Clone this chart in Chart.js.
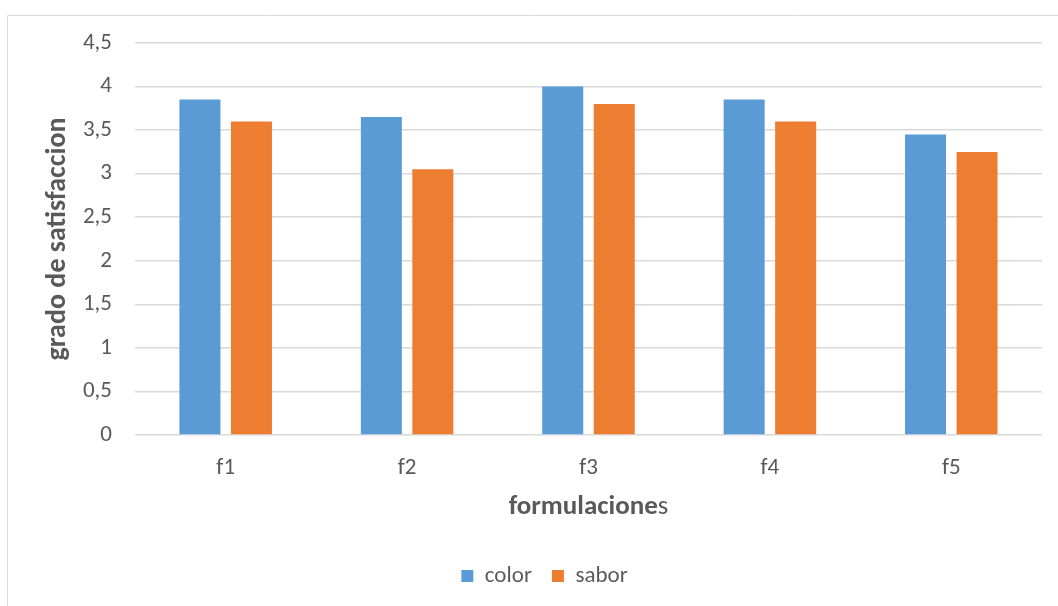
<!DOCTYPE html>
<html>
<head>
<meta charset="utf-8">
<script src="https://cdn.jsdelivr.net/npm/chart.js@4/dist/chart.umd.min.js"></script>
<style>
  html, body { margin: 0; padding: 0; background: #ffffff; overflow: hidden; }
  canvas { display: block; }
</style>
</head>
<body>
<canvas id="chart" width="1058" height="606"></canvas>
<script>
// Satisfaction scores per formulation
const categories = ['f1', 'f2', 'f3', 'f4', 'f5'];
const colorScores = [3.85, 3.65, 4.0, 3.85, 3.45];
const saborScores = [3.6, 3.05, 3.8, 3.6, 3.25];
const seriesNames = ['color', 'sabor'];
const yTickLabels = ['0', '0,5', '1', '1,5', '2', '2,5', '3', '3,5', '4', '4,5'];
const yAxisTitle = 'grado de satisfaccion';
const xAxisTitleBold = 'formulacione';
const xAxisTitleTail = 's';

const FONT = 'Carlito, Lato, "Open Sans", sans-serif';
const TEXT = '#595959';
const GRID = '#d9d9d9';
const TICK_SIZE = 23;
const TITLE_SIZE = 27;

// Outer frame of the chart object
const framePlugin = {
  id: 'frame',
  beforeDraw(chart) {
    const ctx = chart.ctx;
    ctx.save();
    ctx.fillStyle = '#ffffff';
    ctx.fillRect(0, 0, chart.width, chart.height);
    ctx.strokeStyle = GRID;
    ctx.lineWidth = 1;
    ctx.beginPath();
    ctx.moveTo(7.5, chart.height + 2);
    ctx.lineTo(7.5, 15.5);
    ctx.lineTo(chart.width + 2, 15.5);
    ctx.stroke();
    ctx.restore();
  }
};

// Category axis title, bold head with a regular last letter
const xTitlePlugin = {
  id: 'xTitle',
  afterDraw(chart) {
    const ctx = chart.ctx;
    const area = chart.chartArea;
    const cx = (area.left + area.right) / 2;
    const y = area.bottom + 72;
    const bold = 'bold ' + TITLE_SIZE + 'px ' + FONT;
    const normal = TITLE_SIZE + 'px ' + FONT;
    ctx.save();
    ctx.fillStyle = TEXT;
    ctx.textBaseline = 'middle';
    ctx.textAlign = 'left';
    ctx.font = bold;
    const w1 = ctx.measureText(xAxisTitleBold).width;
    ctx.font = normal;
    const w2 = ctx.measureText(xAxisTitleTail).width;
    const x0 = cx - (w1 + w2) / 2;
    ctx.font = bold;
    ctx.fillText(xAxisTitleBold, x0, y);
    ctx.font = normal;
    ctx.fillText(xAxisTitleTail, x0 + w1, y);
    ctx.restore();
  }
};

new Chart(document.getElementById('chart'), {
  type: 'bar',
  data: {
    labels: categories,
    datasets: [
      { label: seriesNames[0], data: colorScores, backgroundColor: '#5b9bd5', borderWidth: 0 },
      { label: seriesNames[1], data: saborScores, backgroundColor: '#ed7d31', borderWidth: 0 }
    ]
  },
  options: {
    responsive: false,
    animation: false,
    devicePixelRatio: 1,
    layout: { padding: { left: 47, right: 16, top: 43, bottom: 8.5 } },
    datasets: { bar: { categoryPercentage: 0.568, barPercentage: 0.796 } },
    plugins: {
      tooltip: { enabled: false },
      legend: {
        position: 'bottom',
        labels: {
          boxWidth: 12,
          boxHeight: 12,
          padding: 20,
          color: TEXT,
          font: { family: FONT, size: TICK_SIZE }
        }
      }
    },
    scales: {
      x: {
        grid: { display: false },
        border: { display: false },
        ticks: { color: TEXT, padding: 11, font: { family: FONT, size: TICK_SIZE } },
        afterFit(scale) { scale.height = 109.5; }
      },
      y: {
        min: 0,
        max: 4.5,
        grid: { color: GRID, lineWidth: 1.5, drawTicks: false },
        border: { display: false },
        ticks: {
          stepSize: 0.5,
          color: TEXT,
          padding: 23,
          font: { family: FONT, size: TICK_SIZE },
          callback: (v, i) => yTickLabels[i]
        },
        title: {
          display: true,
          text: yAxisTitle,
          color: TEXT,
          padding: { top: -6, bottom: 0 },
          font: { family: FONT, size: 28, weight: 'bold' }
        },
        afterFit(scale) { scale.width = 88; }
      }
    }
  },
  plugins: [framePlugin, xTitlePlugin]
});
</script>
</body>
</html>
